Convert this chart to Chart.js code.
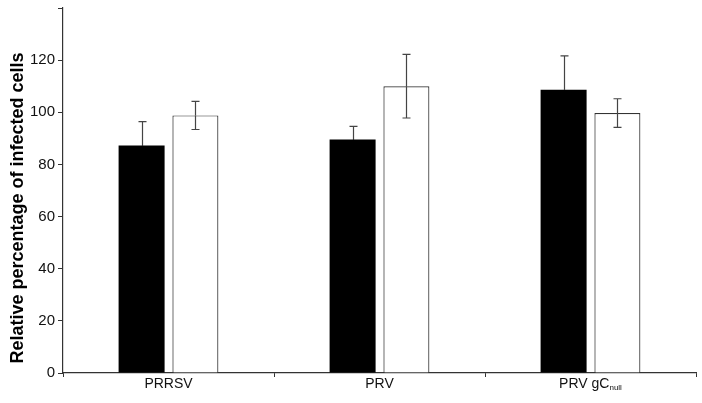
<!DOCTYPE html>
<html>
<head>
<meta charset="utf-8">
<script src="https://cdn.jsdelivr.net/npm/chart.js@4.4.0/dist/chart.umd.min.js"></script>
<style>
  html, body { margin: 0; padding: 0; background: #fff; }
  #wrap { width: 702px; height: 403px; position: relative; }
</style>
</head>
<body>
<div id="wrap"><canvas id="bar-chart"></canvas></div>
<script>
const categories = ["PRRSV", "PRV", "PRV gC_null"];
const blackValues = [87.3, 89.6, 108.6];
const blackErrors = [9.1, 5.0, 13.0];
const whiteValues = [98.8, 110.0, 99.7];
const whiteErrors = [5.4, 12.2, 5.5];
const yTicks = [0, 20, 40, 60, 80, 100, 120];
const yTitle = "Relative percentage of infected cells";

const FONT = "Liberation Sans, Arial, sans-serif";

// error bars drawn from the data through the y scale
const errorBars = {
  id: "errorBars",
  afterDatasetsDraw(chart) {
    const ctx = chart.ctx;
    const y = chart.scales.y;
    const errs = [blackErrors, whiteErrors];
    ctx.save();
    ctx.lineWidth = 1.2;
    chart.data.datasets.forEach((ds, d) => {
      const meta = chart.getDatasetMeta(d);
      meta.data.forEach((bar, i) => {
        const v = ds.data[i], e = errs[d][i];
        const top = y.getPixelForValue(v + e);
        const bot = y.getPixelForValue(v - e);
        const x = Math.round(bar.x) + 0.5;
        ctx.strokeStyle = "#444";
        ctx.beginPath();
        ctx.moveTo(x, top);
        ctx.lineTo(x, bar.y);
        ctx.moveTo(x - 4, top);
        ctx.lineTo(x + 4, top);
        ctx.stroke();
        // lower half: on the black bars it disappears into the fill
        ctx.strokeStyle = d === 0 ? "#000" : "#444";
        ctx.beginPath();
        ctx.moveTo(x, bar.y);
        ctx.lineTo(x, bot);
        ctx.moveTo(x - 4, bot);
        ctx.lineTo(x + 4, bot);
        ctx.stroke();
      });
    });
    ctx.restore();
  }
};

// category labels (with subscript part after "_") and the y title
const labelsPlugin = {
  id: "labelsPlugin",
  afterDraw(chart) {
    const ctx = chart.ctx;
    const x = chart.scales.x;
    const area = chart.chartArea;
    ctx.save();
    ctx.fillStyle = "#111";
    ctx.textBaseline = "alphabetic";
    categories.forEach((c, i) => {
      const parts = c.split("_");
      const cx = x.getPixelForValue(i);
      ctx.font = "14px " + FONT;
      const w1 = ctx.measureText(parts[0]).width;
      let w2 = 0;
      if (parts[1]) {
        ctx.font = "8px " + FONT;
        w2 = ctx.measureText(parts[1]).width;
      }
      const start = cx - (w1 + w2) / 2;
      const base = area.bottom + 15;
      ctx.font = "14px " + FONT;
      ctx.textAlign = "left";
      ctx.fillText(parts[0], start, base);
      if (parts[1]) {
        ctx.font = "8px " + FONT;
        ctx.fillText(parts[1], start + w1, base + 2);
      }
    });
    ctx.translate(18, 208);
    ctx.rotate(-Math.PI / 2);
    ctx.font = "bold 18px " + FONT;
    ctx.textAlign = "center";
    ctx.textBaseline = "middle";
    ctx.fillStyle = "#000";
    ctx.fillText(yTitle, 0, 0);
    ctx.restore();
  }
};

const data = {
  labels: categories,
  datasets: [
    {
      label: "black",
      data: blackValues,
      backgroundColor: "#000",
      borderColor: "#222",
      borderWidth: 0,
      categoryPercentage: 0.51,
      barPercentage: 0.855,
    },
    {
      label: "white",
      data: whiteValues,
      backgroundColor: "#fff",
      borderColor: "#333",
      borderWidth: 1.2,
      categoryPercentage: 0.51,
      barPercentage: 0.855,
    },
  ],
};

const config = {
  type: "bar",
  data: data,
  options: {
    responsive: false,
    animation: false,
    layout: { padding: { top: 8, right: 6, left: 0, bottom: 0 } },
    plugins: { legend: { display: false }, tooltip: { enabled: false } },
    scales: {
      x: {
        grid: {
          offset: true,
          drawOnChartArea: false,
          tickLength: 4,
          color: "#333",
        },
        border: { color: "#333", width: 1.2 },
        ticks: { display: false },
        afterFit(scale) { scale.height = 30; },
      },
      y: {
        min: 0,
        max: 140,
        afterBuildTicks(scale) {
          scale.ticks = yTicks.concat([140]).map(v => ({ value: v }));
        },
        grid: {
          drawOnChartArea: false,
          tickLength: 5,
          color: "#333",
        },
        border: { color: "#333", width: 1.2 },
        ticks: {
          padding: 3,
          color: "#111",
          font: { family: FONT, size: 15 },
          callback: v => (yTicks.includes(v) ? String(v) : ""),
        },
        afterFit(scale) {
          scale.width = 63;
          scale.paddingTop = 0;
          scale.paddingBottom = 0;
        },
      },
    },
  },
};

const canvas = document.getElementById("bar-chart");
canvas.width = 702;
canvas.height = 403;
new Chart(canvas.getContext("2d"), Object.assign(config, { plugins: [errorBars, labelsPlugin] }));
</script>
</body>
</html>
